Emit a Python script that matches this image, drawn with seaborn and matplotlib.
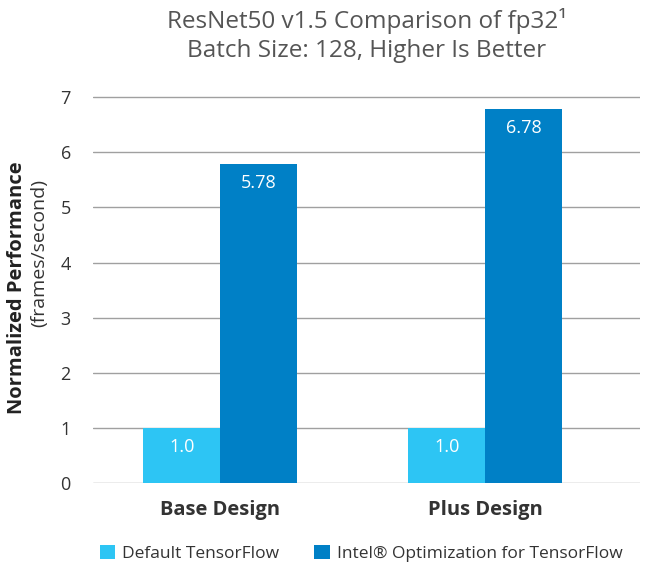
"""
ResNet50 v1.5 fp32 comparison: default TensorFlow vs Intel-optimized build.
"""

import pandas as pd
import matplotlib.pyplot as plt
import seaborn as sns
from matplotlib.patches import Patch

# Data
designs = ["Base Design", "Plus Design"]
frameworks = ["Default TensorFlow", "Intel® Optimization for TensorFlow"]
default_perf = [1.0, 1.0]
intel_perf = [5.78, 6.78]
value_labels = [["1.0", "1.0"], ["5.78", "6.78"]]
y_ticks = [0, 1, 2, 3, 4, 5, 6, 7]

colors = ["#2DC5F4", "#0080C6"]


def build_frame():
    rows = []
    for d, v in zip(designs, default_perf):
        rows.append({"Design": d, "Framework": frameworks[0], "Perf": v})
    for d, v in zip(designs, intel_perf):
        rows.append({"Design": d, "Framework": frameworks[1], "Perf": v})
    return pd.DataFrame(rows)


def plot(df):
    sns.set_style("white")
    plt.rcParams["font.family"] = ["Open Sans", "DejaVu Sans"]

    fig = plt.figure(figsize=(6.48, 5.65), dpi=100)
    ax = fig.add_axes([0.1435, 0.145, 0.8445, 0.685])

    sns.barplot(
        data=df,
        x="Design",
        y="Perf",
        hue="Framework",
        palette=colors,
        width=0.58,
        errorbar=None,
        saturation=1,
        linewidth=0,
        ax=ax,
        zorder=3,
    )
    ax.get_legend().remove()

    for container, labels in zip(ax.containers, value_labels):
        ax.bar_label(
            container, labels=labels, padding=-20, color="white", fontsize=13
        )

    ax.set_ylim(0, 7.02)
    ax.set_xlim(-0.48, 1.585)
    ax.set_yticks(y_ticks)
    ax.set_yticklabels([str(t) for t in y_ticks], fontsize=13, color="#333333")
    ax.tick_params(axis="y", length=0, pad=16)
    ax.tick_params(axis="x", length=0, pad=12)
    ax.set_xticks(range(len(designs)))
    ax.set_xticklabels(designs, fontsize=14.5, fontweight="bold", color="#333333")
    ax.yaxis.grid(True, color="#a0a0a0", linewidth=1, zorder=0)
    for s in ax.spines.values():
        s.set_visible(False)
    ax.set_xlabel("")
    ax.set_ylabel("")

    fig.text(0.027, 0.49, "Normalized Performance", rotation=90, ha="center",
             va="center", fontsize=14.5, fontweight="bold", color="#222222")
    fig.text(0.06, 0.552, "(frames/second)", rotation=90, ha="center",
             va="center", fontsize=14, color="#333333")

    fig.text(0.566, 0.963, "ResNet50 v1.5 Comparison of fp32¹", ha="center",
             va="center", fontsize=17.5, color="#555555")
    fig.text(0.566, 0.91, "Batch Size: 128, Higher Is Better", ha="center",
             va="center", fontsize=17.5, color="#555555")

    handles = [Patch(facecolor=c, edgecolor="none") for c in colors]
    fig.legend(
        handles,
        frameworks,
        loc="center left",
        bbox_to_anchor=(0.13, 0.021),
        ncol=2,
        frameon=False,
        fontsize=12.5,
        handlelength=0.9,
        handleheight=0.9,
        handletextpad=0.4,
        columnspacing=2.0,
        labelcolor="#333333",
    )

    fig.savefig("out.png", dpi=100)


if __name__ == "__main__":
    plot(build_frame())
